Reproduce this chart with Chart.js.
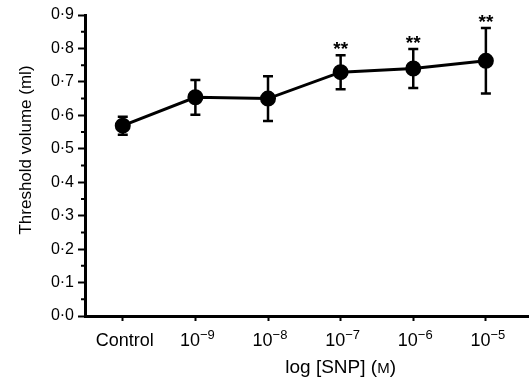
<!DOCTYPE html>
<html lang="en">
<head>
<meta charset="UTF-8">
<title>Threshold volume vs log [SNP]</title>
<script src="https://cdn.jsdelivr.net/npm/chart.js"></script>
<style>
    html, body { margin: 0; padding: 0; background: #fff; }
    .chart-container { position: relative; width: 530px; height: 379px; }
</style>
</head>
<body>
<div class="chart-container">
    <canvas id="snpChart"></canvas>
</div>

<script>
// Values
const categories = ['Control', '10\u22129', '10\u22128', '10\u22127', '10\u22126', '10\u22125'];
const meanVolume = [0.569, 0.654, 0.650, 0.729, 0.740, 0.763];
const semVolume = [0.027, 0.052, 0.067, 0.051, 0.058, 0.098];
const significance = ['', '', '', '**', '**', '**'];
const yTicks = [0, 0.1, 0.2, 0.3, 0.4, 0.5, 0.6, 0.7, 0.8, 0.9];
const yMinorTicks = [0.05, 0.15, 0.25, 0.35, 0.45, 0.55, 0.65, 0.75, 0.85];

const FONT = '"Liberation Sans", Arial, Helvetica, sans-serif';

// draw a sequence of [text, size, raise] runs centred on cx
function drawRuns(ctx, runs, cx, baseY) {
    let total = 0;
    runs.forEach(r => { ctx.font = r[1] + 'px ' + FONT; r.w = ctx.measureText(r[0]).width; total += r.w; });
    let x = cx - total / 2;
    ctx.textAlign = 'left';
    ctx.textBaseline = 'alphabetic';
    runs.forEach(r => {
        ctx.font = r[1] + 'px ' + FONT;
        ctx.fillText(r[0], x, baseY - r[2]);
        x += r.w;
    });
}

// error bars, asterisks, minor ticks, tick labels and axis titles
const extrasPlugin = {
    id: 'extras',
    beforeDatasetsDraw(chart) {
        const ctx = chart.ctx;
        const x = chart.scales.x, y = chart.scales.y;
        ctx.save();
        ctx.strokeStyle = '#000';
        ctx.lineWidth = 2.5;
        meanVolume.forEach((m, i) => {
            const px = x.getPixelForValue(i);
            const top = y.getPixelForValue(m + semVolume[i]);
            const bot = y.getPixelForValue(m - semVolume[i]);
            ctx.beginPath();
            ctx.moveTo(px, top); ctx.lineTo(px, bot);
            ctx.moveTo(px - 5, top); ctx.lineTo(px + 5, top);
            ctx.moveTo(px - 5, bot); ctx.lineTo(px + 5, bot);
            ctx.stroke();
        });
        ctx.restore();
    },
    afterDraw(chart) {
        const ctx = chart.ctx;
        const x = chart.scales.x, y = chart.scales.y;
        ctx.save();
        ctx.fillStyle = '#000';
        // asterisks
        ctx.font = 'bold 19px ' + FONT;
        ctx.textAlign = 'center';
        ctx.textBaseline = 'alphabetic';
        significance.forEach((s, i) => {
            if (!s) return;
            const top = y.getPixelForValue(meanVolume[i] + semVolume[i]);
            ctx.fillText(s, x.getPixelForValue(i), top);
        });
        // minor ticks on y
        ctx.strokeStyle = '#000';
        ctx.lineWidth = 2;
        ctx.beginPath();
        yMinorTicks.forEach(v => {
            const py = y.getPixelForValue(v);
            ctx.moveTo(chart.chartArea.left - 4, py);
            ctx.lineTo(chart.chartArea.left, py);
        });
        ctx.stroke();
        // x tick labels with superscript exponents
        categories.forEach((c, i) => {
            const cx = x.getPixelForValue(i) + 2;
            if (c.startsWith('10')) {
                drawRuns(ctx, [['10', 18, 0], [c.slice(2), 13, 7]], cx, 346);
            } else {
                drawRuns(ctx, [[c, 18, 0]], cx, 346);
            }
        });
        // axis titles
        ctx.font = '17px ' + FONT;
        ctx.textAlign = 'center';
        ctx.textBaseline = 'middle';
        ctx.save();
        ctx.translate(26, 150);
        ctx.rotate(-Math.PI / 2);
        ctx.fillText('Threshold volume (ml)', 0, 0);
        ctx.restore();
        drawRuns(ctx, [['log [SNP] (', 19, 0], ['M', 15, 0], [')', 19, 0]], x.getPixelForValue(3), 373);
        ctx.restore();
    }
};

const ctx = document.getElementById('snpChart').getContext('2d');
new Chart(ctx, {
    type: 'line',
    data: {
        datasets: [{
            data: meanVolume.map((v, i) => ({ x: i, y: v })),
            borderColor: '#000',
            borderWidth: 3,
            backgroundColor: '#000',
            pointRadius: 6.5,
            pointBackgroundColor: '#000',
            pointBorderColor: '#000',
            tension: 0,
            fill: false
        }]
    },
    options: {
        responsive: true,
        maintainAspectRatio: false,
        animation: false,
        layout: { autoPadding: false, padding: { top: 15, right: 2, left: 0, bottom: 0 } },
        plugins: {
            legend: { display: false },
            tooltip: { enabled: false }
        },
        scales: {
            x: {
                type: 'linear',
                min: -0.52,
                max: 5.58,
                afterFit: s => { s.height = 63; s.paddingLeft = 0; s.paddingRight = 0; },
                afterBuildTicks: s => { s.ticks = categories.map((c, i) => ({ value: i })); },
                grid: { drawOnChartArea: false, drawTicks: true, tickLength: 5, tickWidth: 2, tickColor: '#000' },
                border: { display: true, width: 3, color: '#000' },
                ticks: {
                    autoSkip: false,
                    maxRotation: 0,
                    callback: () => ''
                }
            },
            y: {
                min: 0,
                max: 0.9,
                afterFit: s => { s.width = 85; },
                afterBuildTicks: s => { s.ticks = yTicks.map(v => ({ value: v })); },
                grid: { drawOnChartArea: false, drawTicks: true, tickLength: 7, tickWidth: 2, tickColor: '#000' },
                border: { display: true, width: 3, color: '#000' },
                ticks: {
                    color: '#000',
                    padding: 4,
                    font: { family: FONT, size: 16 },
                    callback: v => v.toFixed(1).replace('.', '\u00B7')
                }
            }
        }
    },
    plugins: [extrasPlugin]
});
</script>
</body>
</html>
